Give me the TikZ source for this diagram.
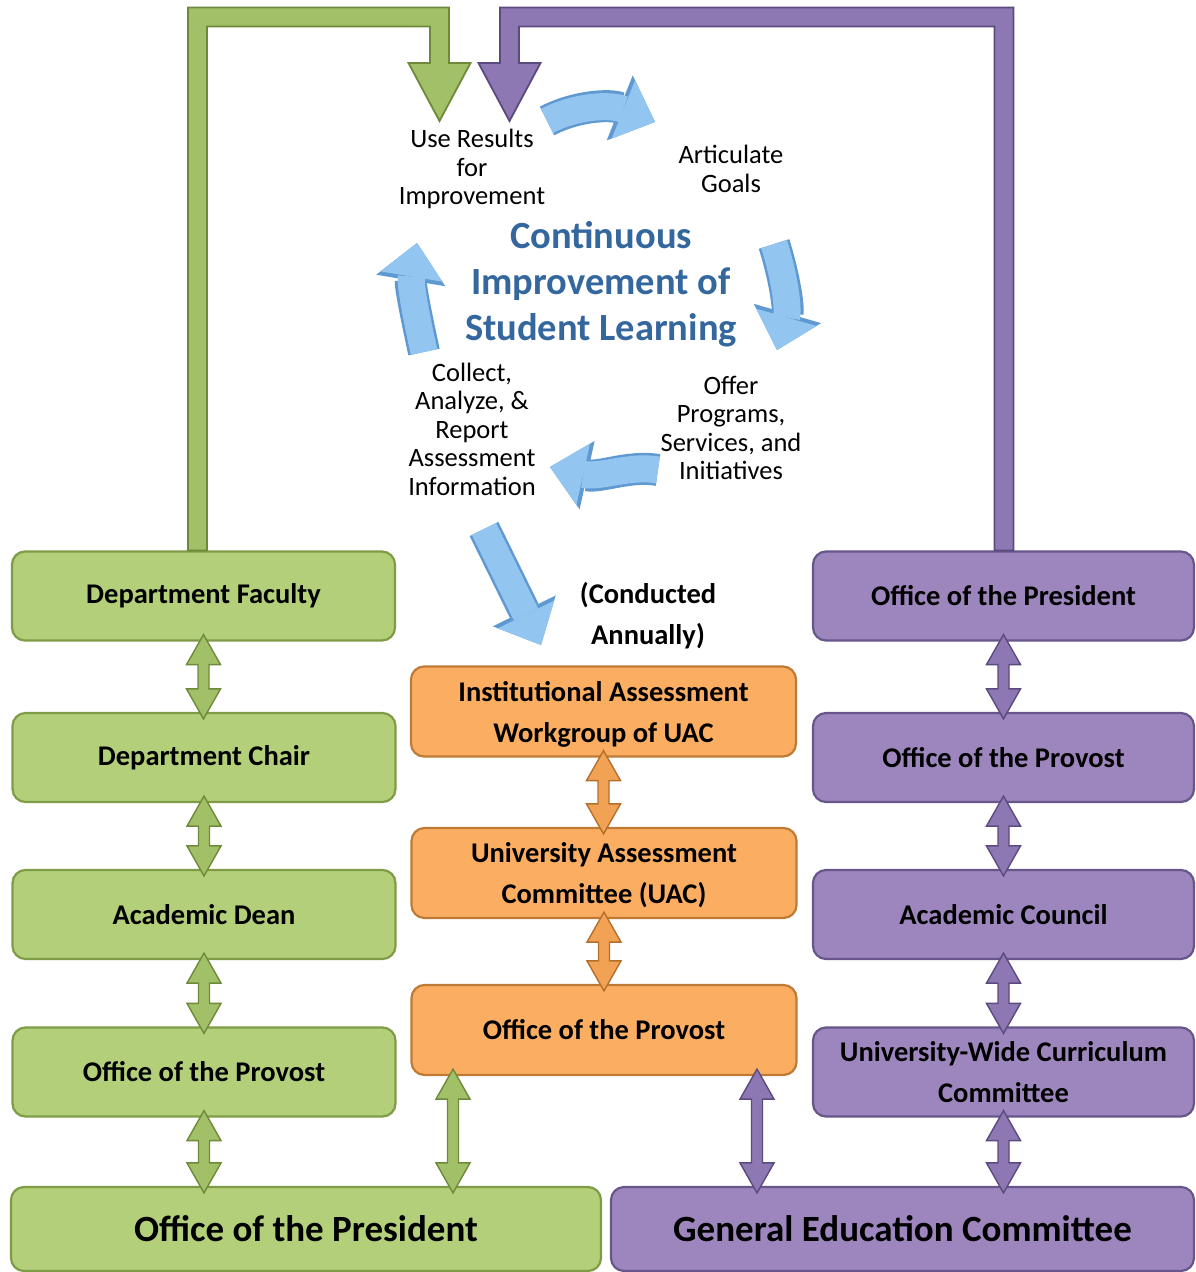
\documentclass[tikz,border=0pt]{standalone}
\usepackage{fontspec}
\setmainfont{Carlito}
\usetikzlibrary{arrows.meta,calc}
\definecolor{gF}{HTML}{B3CF79}
\definecolor{gD}{HTML}{7E9B45}
\definecolor{gA}{HTML}{A2C068}
\definecolor{gAD}{HTML}{6D8A3A}
\definecolor{pF}{HTML}{9D86BE}
\definecolor{pD}{HTML}{67568A}
\definecolor{pA}{HTML}{8E78B3}
\definecolor{pAD}{HTML}{5B4A7E}
\definecolor{oF}{HTML}{FBAE62}
\definecolor{oD}{HTML}{BF7A35}
\definecolor{oA}{HTML}{F2A254}
\definecolor{oAD}{HTML}{B46F2C}
\definecolor{bF}{HTML}{92C5F0}
\definecolor{bD}{HTML}{5F99D2}
\definecolor{tB}{HTML}{35679F}
\tikzset{
  box/.style={rounded corners=13pt, line width=2.2pt, inner sep=0pt, align=center,
    font=\bfseries\fontsize{28.5}{41}\selectfont},
  gbox/.style={box, draw=gD, fill=gF, minimum width=383pt, minimum height=89pt},
  pbox/.style={box, draw=pD, fill=pF, minimum width=381pt, minimum height=89pt},
  obox/.style={box, draw=oD, fill=oF, minimum width=385pt, minimum height=90pt},
  two/.style={text depth=0pt},
  bigbox/.style={font=\bfseries\fontsize{37}{44}\selectfont, minimum height=84pt},
  txt/.style={align=center, inner sep=0pt, font=\fontsize{26.5}{28.5}\selectfont},
  ttl/.style={align=center, inner sep=0pt, text=tB, font=\bfseries\fontsize{38.5}{46}\selectfont},
  dblarr/.style={line width=1.4pt, line join=miter, to path={
    let \p1=(\tikztostart), \p2=(\tikztotarget) in
    (\x1,\y1+7pt) -- (\x1+17pt,\y1-23pt) -- (\x1+5.5pt,\y1-23pt) -- (\x1+5.5pt,\y2+23pt)
    -- (\x1+17pt,\y2+23pt) -- (\x1,\y2-7pt) -- (\x1-17pt,\y2+23pt) -- (\x1-5.5pt,\y2+23pt)
    -- (\x1-5.5pt,\y1-23pt) -- (\x1-17pt,\y1-23pt) -- cycle}},
  gdbl/.style={dblarr, fill=gA, draw=gAD},
  pdbl/.style={dblarr, fill=pA, draw=pAD},
  odbl/.style={dblarr, fill=oA, draw=oAD},
  lpoly/.style={line width=1.8pt, line join=miter},
  barrout/.style={draw=bD, line width=32pt, -{Triangle[width=70pt,length=38pt,line width=0pt]}},
  barrin/.style={draw=bF, line width=27pt, -{Triangle[width=63pt,length=34pt,line width=0pt]}},
}
\begin{document}
\begin{tikzpicture}[x=1pt,y=-1pt]
\useasboundingbox (0,0) rectangle (1196,1272);

% left column
\node[gbox] (gDF) at (203.5,596) {Department Faculty};
\node[gbox] (gDC) at (204,757.5) {Department Chair};
\node[gbox] (gAD) at (204,914.5) {Academic Dean};
\node[gbox] (gOP) at (204,1072) {Office of the Provost};
\node[gbox, bigbox, minimum width=590pt] (gPres) at (306,1229) {Office of the President};

% right column
\node[pbox] (pPres) at (1003.5,596) {Office of the President};
\node[pbox] (pProv) at (1003.5,757.5) {Office of the Provost};
\node[pbox] (pAC) at (1003.5,914.5) {Academic Council};
\node[pbox, two] (pUW) at (1003.5,1072) {University-Wide Curriculum\\Committee};
\node[pbox, bigbox, minimum width=583pt] (pGE) at (902.5,1229) {General Education Committee};

% middle column
\node[obox, two] (oIA) at (603.5,711.5) {Institutional Assessment\\Workgroup of UAC};
\node[obox, two] (oUAC) at (604,873) {University Assessment\\Committee (UAC)};
\node[obox] (oProv) at (604,1030) {Office of the Provost};

% cycle texts
\node[txt] (tUse) at (472,169) {Use Results\\for\\Improvement};
\node[txt] (tArt) at (731,169) {Articulate\\Goals};
\node[ttl] (tCont) at (601,284) {Continuous\\Improvement of\\Student Learning};
\node[txt] (tOffer) at (731,428) {Offer\\Programs,\\Services, and\\Initiatives};
\node[txt] (tCollect) at (472,429) {Collect,\\Analyze, \&\\Report\\Assessment\\Information};
\node[align=center, inner sep=0pt, font=\bfseries\fontsize{28.5}{41}\selectfont] (tCond) at (648,616) {(Conducted\\Annually)};

% double arrows
\draw[gdbl] (gDF.south) to (gDC.north);
\draw[gdbl] (gDC.south) to (gAD.north);
\draw[gdbl] (gAD.south) to (gOP.north);
\draw[gdbl] (gOP.south) to (gOP.south |- gPres.north);
\draw[odbl] (oIA.south) to (oUAC.north);
\draw[odbl] (oUAC.south) to (oProv.north);
\draw[pdbl] (pPres.south) to (pProv.north);
\draw[pdbl] (pProv.south) to (pAC.north);
\draw[pdbl] (pAC.south) to (pUW.north);
\draw[pdbl] (pUW.south) to (pUW.south |- pGE.north);
\coordinate (gl) at ([xshift=-151pt]oProv.south);
\coordinate (pl) at ([xshift=153pt]oProv.south);
\draw[gdbl] (gl) to (gl |- gPres.north);
\draw[pdbl] (pl) to (pl |- pGE.north);

% feedback L-arrows
\coordinate (gs) at ([xshift=-6pt]gDF.north);
\coordinate (gc) at (439.5,17);
\coordinate (gtip) at (439.5,121);
\coordinate (ps) at ([xshift=0.5pt]pPres.north);
\coordinate (pc) at (509.5,17);
\coordinate (ptip) at (509.5,121);
\draw[lpoly, fill=gA, draw=gAD]
  ($(gs)+(-9.5,0)$) |- ($(gc)+(9.5,-9.5)$) |- ($(gtip)+(31,-58)$) -- (gtip)
  -- ($(gtip)+(-31,-58)$) -- ($(gtip)+(-9.5,-58)$) |- ($(gs |- gc)+(9.5,9.5)$)
  -- ($(gs)+(9.5,0)$) -- cycle;
\draw[lpoly, fill=pA, draw=pAD]
  ($(ps)+(9.5,0)$) |- ($(pc)+(-9.5,-9.5)$) |- ($(ptip)+(-31,-58)$) -- (ptip)
  -- ($(ptip)+(31,-58)$) -- ($(ptip)+(9.5,-58)$) |- ($(ps |- pc)+(-9.5,9.5)$)
  -- ($(ps)+(-9.5,0)$) -- cycle;

% cycle arrows
\coordinate (a1s) at (547,121);
\coordinate (a1e) at (655,122);
\coordinate (a2s) at (774,244);
\coordinate (a2e) at (777,350);
\coordinate (a3s) at (658,470);
\coordinate (a3e) at (550,467);
\coordinate (a4s) at (424,352);
\coordinate (a4e) at (417,243);
\coordinate (a5s) at (484,529);
\coordinate (a5e) at (541,645);
\foreach \s in {barrout, barrin}{
  \draw[\s] (a1s) .. controls (575,106) and (610,104) .. (a1e);
  \draw[\s] (a2s) .. controls (784,275) and (789,308) .. (a2e);
  \draw[\s] (a3s) .. controls (630,465) and (600,478) .. (a3e);
  \draw[\s] (a4s) .. controls (417,320) and (410,285) .. (a4e);
  \draw[\s] (a5s) -- (a5e);
}
\end{tikzpicture}
\end{document}
